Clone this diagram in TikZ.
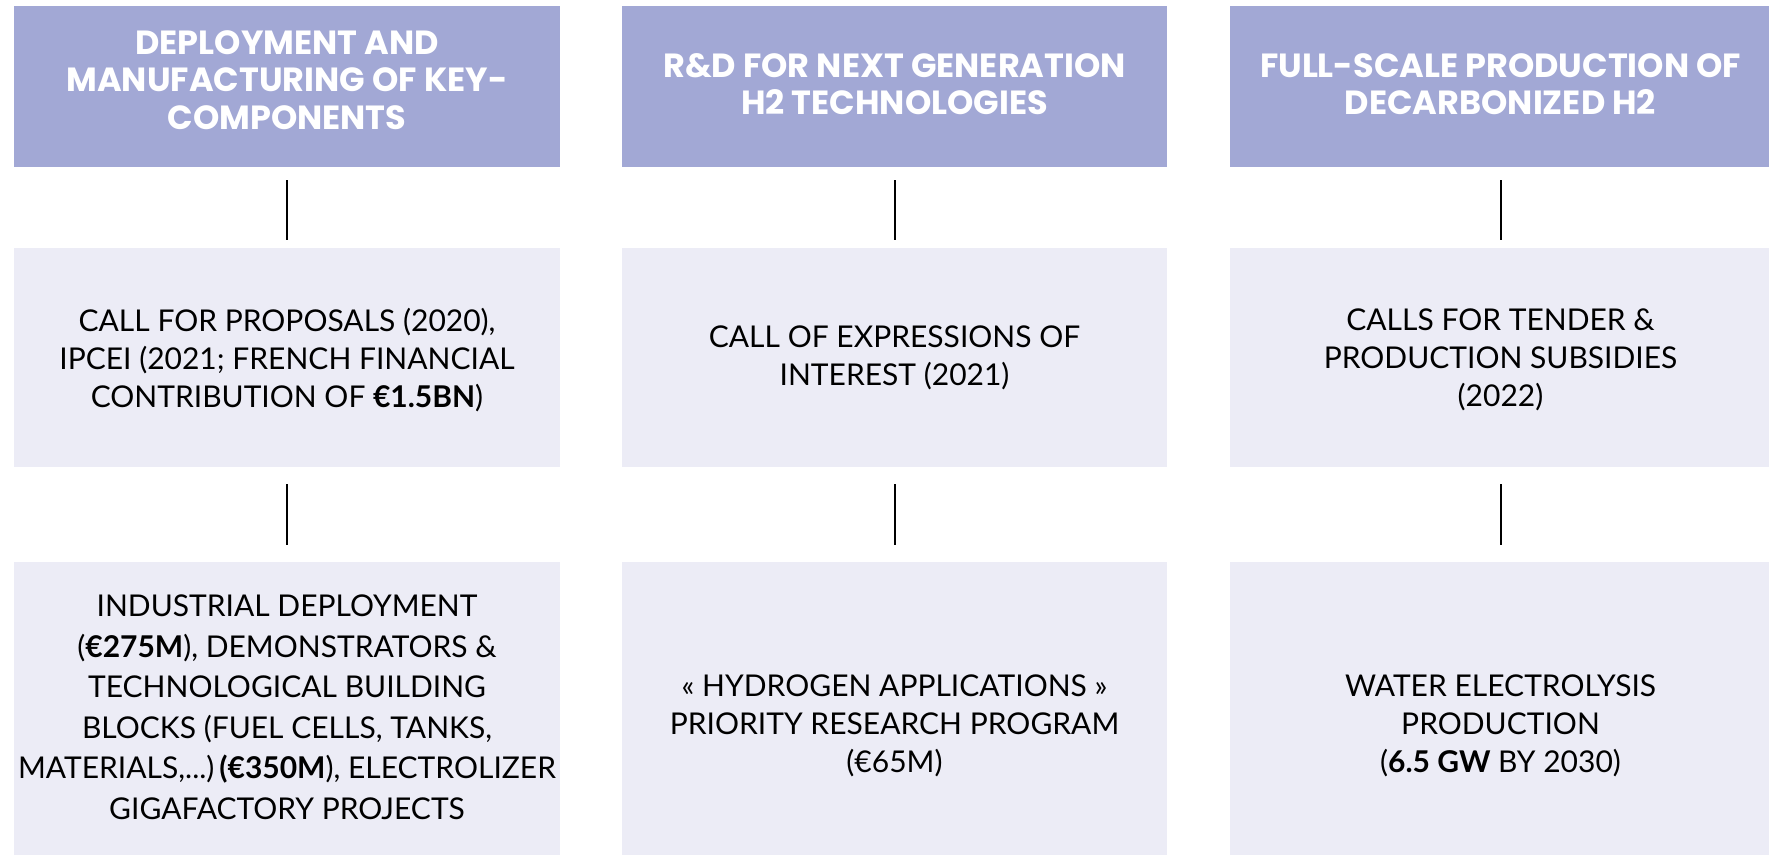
\documentclass[tikz,border=0pt]{standalone}
\usepackage{fontspec}
\setmainfont{Lato}
\newfontfamily\headfont{Poppins}[UprightFont=* Bold]
\definecolor{headc}{HTML}{A2A8D5}
\definecolor{bodyc}{HTML}{ECECF6}
\begin{document}
\begin{tikzpicture}[x=1pt,y=-1pt,
  headbox/.style={fill=headc, draw=none, inner sep=0pt, anchor=north west, minimum height=161pt},
  bodybox/.style={fill=bodyc, draw=none, inner sep=0pt, anchor=north west},
  headtxt/.style={text=white, align=center, inner sep=0pt, font=\headfont\fontsize{33.5}{37.5}\selectfont},
  bodytxt/.style={text=black, align=center, inner sep=0pt, font=\fontsize{30}{38}\selectfont},
  conn/.style={draw=black, line width=2.2pt}
]
\useasboundingbox (0,0) rectangle (1769,854);
% header boxes
\node[headbox, minimum width=546pt] (h1) at (14,6) {};
\node[headbox, minimum width=545pt] (h2) at (622,6) {};
\node[headbox, minimum width=541pt] (h3) at (1230,6) {};
% middle boxes
\node[bodybox, minimum width=546pt, minimum height=219pt] (m1) at (14,248) {};
\node[bodybox, minimum width=545pt, minimum height=219pt] (m2) at (622,248) {};
\node[bodybox, minimum width=541pt, minimum height=219pt] (m3) at (1230,248) {};
% bottom boxes
\node[bodybox, minimum width=546pt, minimum height=300pt] (b1) at (14,562) {};
\node[bodybox, minimum width=545pt, minimum height=300pt] (b2) at (622,562) {};
\node[bodybox, minimum width=541pt, minimum height=300pt] (b3) at (1230,562) {};
% header texts
\node[headtxt] (th1) at (287,80) {DEPLOYMENT AND\\MANUFACTURING OF KEY-\\COMPONENTS};
\node[headtxt] (th2) at (894.5,84) {R\&D FOR NEXT GENERATION\\H2 TECHNOLOGIES};
\node[headtxt] (th3) at (1500.5,84) {FULL-SCALE PRODUCTION OF\\DECARBONIZED H2};
% middle texts
\node[bodytxt] (tm1) at (287,360) {CALL FOR PROPOSALS (2020),\\IPCEI (2021; FRENCH FINANCIAL\\CONTRIBUTION OF \textbf{€1.5BN})};
\node[bodytxt] (tm2) at (894.5,358) {CALL OF EXPRESSIONS OF\\INTEREST (2021)};
\node[bodytxt] (tm3) at (1500.5,360) {CALLS FOR TENDER \&\\PRODUCTION SUBSIDIES\\(2022)};
% bottom texts
\node[bodytxt, font=\fontsize{30}{40.5}\selectfont] (tb1) at (287,707) {INDUSTRIAL DEPLOYMENT\\(\textbf{€275M}), DEMONSTRATORS \&\\TECHNOLOGICAL BUILDING\\BLOCKS (FUEL CELLS, TANKS,\\MATERIALS,...)\,\textbf{(€350M}), ELECTROLIZER\\GIGAFACTORY PROJECTS};
\node[bodytxt] (tb2) at (894.5,726) {« HYDROGEN APPLICATIONS »\\PRIORITY RESEARCH PROGRAM\\(€65M)};
\node[bodytxt] (tb3) at (1500.5,726) {WATER ELECTROLYSIS\\PRODUCTION\\(\textbf{6.5 GW} BY 2030)};
% connectors
\foreach \c in {1,2,3}{
  \draw[conn, shorten <=13pt, shorten >=8pt] (h\c.south) -- (m\c.north);
  \draw[conn, shorten <=17pt, shorten >=17pt] (m\c.south) -- (b\c.north);
}
\end{tikzpicture}
\end{document}
